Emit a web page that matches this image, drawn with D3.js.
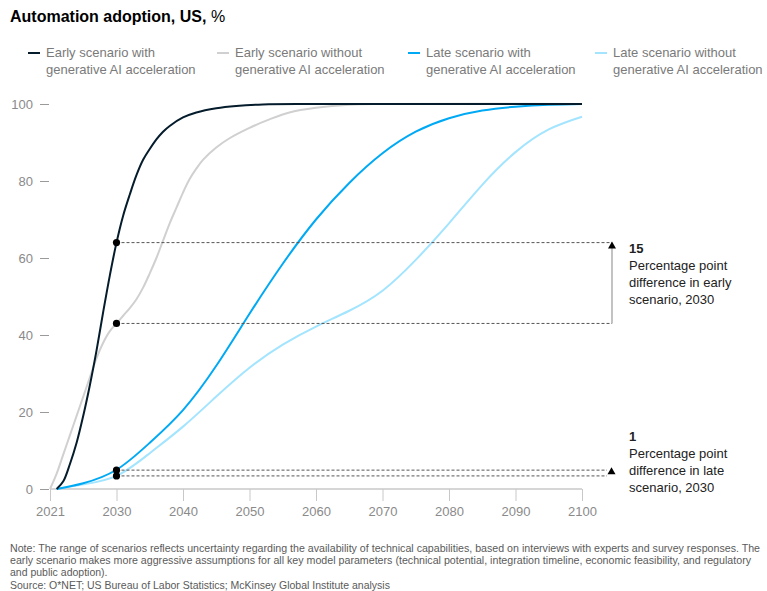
<!DOCTYPE html>
<html>
<head>
<meta charset="utf-8">
<script src="https://cdn.jsdelivr.net/npm/d3@7"></script>
<style>
  body { margin: 0; background: #fff; }
  svg { display: block; font-family: "Liberation Sans", Arial, sans-serif; }
</style>
</head>
<body>
<div id="chart"></div>
<script>
//Data
var seriesNames = ["Early scenario with", "Early scenario without", "Late scenario with", "Late scenario without"];
var seriesSub = "generative AI acceleration";
var seriesColors = ["#051c2c", "#d0d0d0", "#00a9f4", "#a3e4ff"];

var earlyWithYears = [2021, 2022, 2023, 2024, 2025, 2026, 2027, 2028, 2029, 2030, 2031, 2032, 2033, 2034, 2035, 2036, 2037, 2038, 2040, 2042, 2045, 2048, 2052, 2060, 2100];
var earlyWithValues = [0, 2, 6.5, 12, 19, 27, 36, 46, 55.5, 64, 71, 76.5, 81.5, 85.5, 88.3, 90.8, 92.8, 94.3, 96.5, 97.8, 98.9, 99.5, 99.9, 100, 100];

var earlyWithoutYears = [2020, 2021, 2022, 2023, 2024, 2025, 2026, 2027, 2028, 2029, 2030, 2031, 2032, 2033, 2034, 2035, 2036, 2037, 2038, 2039, 2040, 2041, 2042, 2043, 2045, 2047, 2050, 2053, 2056, 2060, 2065, 2070, 2100];
var earlyWithoutValues = [0, 4, 9, 14, 19, 24, 29, 34, 38, 41, 43, 45, 47, 49.3, 52.3, 56, 60, 64.5, 69, 73, 77, 80.5, 83.2, 85.5, 88.7, 91.1, 93.8, 96, 97.8, 99, 99.8, 100, 100];

var lateWithYears = [2021, 2025, 2030, 2035, 2040, 2045, 2050, 2055, 2060, 2065, 2070, 2075, 2080, 2085, 2090, 2095, 2100];
var lateWithValues = [0, 1.5, 5, 12, 20.5, 32, 45.5, 58.5, 70, 79.5, 87.2, 92.8, 96.3, 98.3, 99.3, 99.8, 100];

var lateWithoutYears = [2021, 2025, 2030, 2035, 2040, 2045, 2050, 2055, 2060, 2065, 2070, 2075, 2080, 2085, 2090, 2095, 2100];
var lateWithoutValues = [0, 1.2, 3.4, 9.3, 16.2, 24, 31.5, 37.5, 42.2, 46.3, 51.5, 59.5, 69, 79, 87.5, 93.4, 96.7];

//2030 markers
var markerYear = 2030;
var markerValues = [64, 43, 4.9, 3.4];

var xTickYears = [2020, 2030, 2040, 2050, 2060, 2070, 2080, 2090, 2100];
var xTickLabels = ["2021", "2030", "2040", "2050", "2060", "2070", "2080", "2090", "2100"];
var yTicks = [0, 20, 40, 60, 80, 100];

var noteLines = [
  "Note: The range of scenarios reflects uncertainty regarding the availability of technical capabilities, based on interviews with experts and survey responses. The",
  "early scenario makes more aggressive assumptions for all key model parameters (technical potential, integration timeline, economic feasibility, and regulatory",
  "and public adoption).",
  "Source: O*NET; US Bureau of Labor Statistics; McKinsey Global Institute analysis"
];

var W = 767, H = 591;

var svg = d3.select("#chart").append("svg")
  .attr("width", W).attr("height", H);

//Scales
var x = d3.scaleLinear().domain([2020, 2100]).range([50, 582]);
var y = d3.scaleLinear().domain([0, 100]).range([489, 104]);

//Title
var title = svg.append("text").attr("x", 10).attr("y", 22)
  .attr("font-size", 16).attr("fill", "#000");
title.append("tspan").attr("font-weight", "bold").text("Automation adoption, US, ");
title.append("tspan").text("%");

//Legend
var legendX = [28, 217, 408, 595];
seriesNames.forEach(function(name, i) {
  var g = svg.append("g").attr("transform", "translate(" + legendX[i] + ",0)");
  g.append("line").attr("x1", 0).attr("x2", 12).attr("y1", 53).attr("y2", 53)
    .attr("stroke", seriesColors[i]).attr("stroke-width", 2);
  var t = g.append("text").attr("x", 18).attr("y", 57).attr("font-size", 13).attr("fill", "#7a7a7a");
  t.append("tspan").attr("x", 18).text(name);
  t.append("tspan").attr("x", 18).attr("dy", 17).text(seriesSub);
});

//Y axis
var yAxis = svg.append("g").attr("transform", "translate(49,0)")
  .call(d3.axisLeft(y).tickValues(yTicks).tickSize(9).tickPadding(7));
yAxis.select(".domain").remove();
yAxis.selectAll(".tick line").attr("stroke", "#9a9a9a");
yAxis.selectAll(".tick text").attr("font-size", 13).attr("fill", "#8a8a8a")
  .attr("font-family", "Liberation Sans, Arial, sans-serif");

//X axis
var xAxis = svg.append("g").attr("transform", "translate(0,489)")
  .call(d3.axisBottom(x).tickValues(xTickYears).tickSize(12).tickPadding(6)
    .tickFormat(function(d, i) { return xTickLabels[i]; }));
xAxis.select(".domain").attr("stroke", "#c8c8c8").attr("stroke-width", 1.5).attr("d", "M50,0H582");
xAxis.selectAll(".tick line").attr("stroke", "#c8c8c8");
xAxis.selectAll(".tick text").attr("font-size", 13).attr("fill", "#8a8a8a")
  .attr("font-family", "Liberation Sans, Arial, sans-serif");

//Lines - early curves need a local spline, late ones a natural (smoothest) spline
var lineEarly = d3.line()
  .x(function(d) { return x(d[0]); })
  .y(function(d) { return y(d[1]); })
  .curve(d3.curveCatmullRom.alpha(0.5));
var lineLate = d3.line()
  .x(function(d) { return x(d[0]); })
  .y(function(d) { return y(d[1]); })
  .curve(d3.curveNatural);

var series = [
  { data: d3.zip(earlyWithoutYears, earlyWithoutValues), color: seriesColors[1], gen: lineEarly },
  { data: d3.zip(lateWithoutYears, lateWithoutValues), color: seriesColors[3], gen: lineLate },
  { data: d3.zip(lateWithYears, lateWithValues), color: seriesColors[2], gen: lineLate },
  { data: d3.zip(earlyWithYears, earlyWithValues), color: seriesColors[0], gen: lineEarly }
];
series.forEach(function(s) {
  svg.append("path").datum(s.data)
    .attr("fill", "none")
    .attr("stroke", s.color)
    .attr("stroke-width", 2)
    .attr("d", s.gen);
});

//Dashed guide lines from the 2030 markers
var guideEnd = [612, 612, 607, 607];
markerValues.forEach(function(v, i) {
  svg.append("line")
    .attr("x1", x(markerYear)).attr("x2", guideEnd[i])
    .attr("y1", y(v)).attr("y2", y(v))
    .attr("stroke", "#555").attr("stroke-width", 1)
    .attr("stroke-dasharray", "3,2");
});

//Vertical bracket, early scenario
svg.append("line")
  .attr("x1", 612).attr("x2", 612)
  .attr("y1", y(markerValues[1])).attr("y2", y(markerValues[0]) + 3)
  .attr("stroke", "#9a9a9a").attr("stroke-width", 1.2);

//Arrow heads
function arrowUp(cx, tipY) {
  svg.append("path")
    .attr("d", "M" + cx + "," + tipY + "l4,7h-8z")
    .attr("fill", "#000");
}
arrowUp(612, y(markerValues[0]) - 1);
arrowUp(611.5, y(markerValues[2]) - 3);

//Markers
markerValues.forEach(function(v) {
  svg.append("circle").attr("cx", x(markerYear)).attr("cy", y(v)).attr("r", 3.6).attr("fill", "#000");
});

//Annotations
function annotate(yTop, big, lines) {
  var t = svg.append("text").attr("x", 629).attr("y", yTop).attr("font-size", 13).attr("fill", "#222");
  t.append("tspan").attr("x", 629).attr("font-weight", "bold").text(big);
  lines.forEach(function(l) {
    t.append("tspan").attr("x", 629).attr("dy", 17).text(l);
  });
}
annotate(253, "15", ["Percentage point", "difference in early", "scenario, 2030"]);
annotate(441, "1", ["Percentage point", "difference in late", "scenario, 2030"]);

//Notes
var note = svg.append("g");
noteLines.forEach(function(l, i) {
  var t = note.append("text").attr("x", 10).attr("y", 552 + i * 12.2)
    .attr("font-size", 10.5).attr("fill", "#5a5a5a")
    .text(l);
  if (i === 0) t.attr("textLength", 750).attr("lengthAdjust", "spacingAndGlyphs");
  if (i === 1) t.attr("textLength", 741).attr("lengthAdjust", "spacingAndGlyphs");
});
</script>
</body>
</html>
